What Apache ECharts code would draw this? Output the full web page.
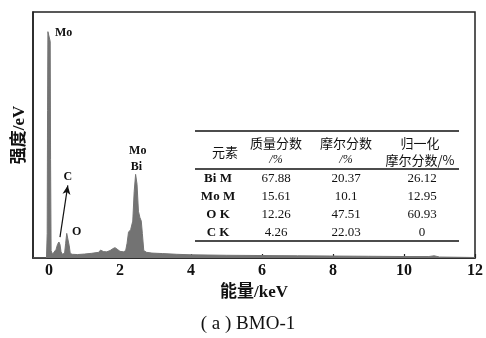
<!DOCTYPE html>
<html><head><meta charset="utf-8">
<script src="https://cdn.jsdelivr.net/npm/echarts@6/dist/echarts.min.js"></script>
<style>html,body{margin:0;padding:0;background:#fff}#c{width:486px;height:338px}</style>
</head><body><div id="c"></div>
<script>
// ---- data ----
var energy = [-0.45,-0.07,-0.05,-0.04,-0.03,0.0,0.02,0.035,0.045,0.06,0.1,0.15,0.2,0.24,0.28,0.31,0.34,0.38,0.44,0.47,0.5,0.54,0.57,0.6,0.66,0.8,1.0,1.2,1.4,1.45,1.49,1.54,1.62,1.72,1.8,1.86,1.92,2.0,2.1,2.16,2.2,2.24,2.3,2.36,2.4,2.44,2.48,2.52,2.56,2.6,2.63,2.67,2.75,2.9,3.2,3.6,4.0,5.0,6.0,7.0,8.0,9.0,10.0,10.7,10.85,11.0,11.5,12.0];
var counts = [0,0,10,60,92,92,92,88,40,3,1.5,2,3.5,5.5,6.5,5.5,2.5,1.5,2,6,10,9.5,5,1.8,1.5,1.4,1.6,1.9,2.3,3.2,3.0,2.6,2.5,3.0,3.8,4.2,3.6,2.7,2.5,3.0,6,10.5,11.5,15,27,34,30,19,16.5,15,10,3,2.3,2.0,1.8,1.5,1.3,1.1,1.0,0.9,0.8,0.7,0.6,0.6,0.9,0.4,0.3,0.2];
var xTicks = [0,2,4,6,8,10,12];
var tableHeader1 = ['元素','质量分数','摩尔分数','归一化'];
var tableHeader2 = ['','/%','/%','摩尔分数/%'];
var elements = ['Bi M','Mo M','O K','C K'];
var massFrac = ['67.88','15.61','12.26','4.26'];
var molarFrac = ['20.37','10.1','47.51','22.03'];
var normMolar = ['26.12','12.95','60.93','0'];
var peakLabels = [{t:'Mo',x:0.17,y:91.5,a:'left'},{t:'Mo',x:2.5,y:43.5,a:'center'},{t:'Bi',x:2.46,y:37,a:'center'},{t:'C',x:0.53,y:33,a:'center'},{t:'O',x:0.65,y:10.5,a:'left'}];

var serif = '"Liberation Serif","DejaVu Serif",serif';
var cjk = '"Liberation Serif","Noto Sans CJK SC",serif';
var pts = energy.map(function(e,i){return [e,counts[i]];});

var chart = echarts.init(document.getElementById('c'));
var option = {
  animation:false,
  grid:{left:33,top:12,right:10,bottom:80,show:true,borderColor:'#222',borderWidth:1.5,backgroundColor:'transparent'},
  xAxis:{type:'value',min:-0.45,max:12,
    axisLine:{show:true,onZero:false,lineStyle:{color:'#222',width:1.5}},
    axisTick:{show:true,inside:true,length:4,customValues:xTicks,lineStyle:{color:'#222',width:1.2}},
    axisLabel:{customValues:xTicks,margin:5,color:'#111',fontFamily:serif,fontWeight:'bold',fontSize:16},
    splitLine:{show:false},
    name:'能量/keV',nameLocation:'middle',nameGap:24,
    nameTextStyle:{color:'#111',fontFamily:cjk,fontWeight:'bold',fontSize:17}},
  yAxis:{type:'value',min:0,max:100,
    axisLine:{show:true,onZero:false,lineStyle:{color:'#222',width:1.5}},
    axisTick:{show:false},axisLabel:{show:false},splitLine:{show:false},
    name:'强度/eV',nameLocation:'middle',nameGap:5,nameRotate:90,
    nameTextStyle:{color:'#111',fontFamily:cjk,fontWeight:'bold',fontSize:17}},
  series:[{type:'line',data:pts,showSymbol:false,symbol:'none',smooth:false,
    lineStyle:{color:'#757575',width:1},
    areaStyle:{color:'#737373',opacity:1},
    markLine:{silent:true,symbol:['none','arrow'],symbolSize:[6,9],
      lineStyle:{color:'#111',width:1.2,type:'solid'},label:{show:false},
      data:[[{coord:[0.31,8.5]},{coord:[0.53,29.5]}]]}
  }]
};
chart.setOption(option);

// annotations and table
var g = [];
peakLabels.forEach(function(p){
  var px = chart.convertToPixel({gridIndex:0},[p.x,p.y]);
  g.push({type:'text',x:px[0],y:px[1],style:{text:p.t,fill:'#111',font:'bold 12px '+serif,textAlign:p.a,textVerticalAlign:'middle'}});
});
var tl = 195, tr = 459;
[131,169,241].forEach(function(y){
  g.push({type:'line',shape:{x1:tl,y1:y,x2:tr,y2:y},style:{stroke:'#111',lineWidth:1.3}});
});
var colX = [218,276,346,422];
var hdrX = [225,276,346,420];
tableHeader1.forEach(function(t,i){
  g.push({type:'text',x:hdrX[i],y:i===0?152:143,style:{text:t,fill:'#111',font:'13px "Noto Sans CJK SC",sans-serif',textAlign:'center',textVerticalAlign:'middle'}});
});
tableHeader2.forEach(function(t,i){
  if(!t) return;
  g.push({type:'text',x:hdrX[i],y:160,style:{text:t,fill:'#111',font:(i===3?'13px "Noto Sans CJK SC",sans-serif':'italic 12px '+serif),textAlign:'center',textVerticalAlign:'middle'}});
});
var rowY = [179,197,215,233];
elements.forEach(function(e,i){
  var vals=[e,massFrac[i],molarFrac[i],normMolar[i]];
  vals.forEach(function(v,j){
    g.push({type:'text',x:colX[j],y:rowY[i],style:{text:v,fill:'#111',font:(j===0?'bold ':'')+'13px '+serif,textAlign:'center',textVerticalAlign:'middle'}});
  });
});
g.push({type:'text',x:248,y:324,style:{text:'( a ) BMO-1',fill:'#111',font:'19px '+serif,textAlign:'center',textVerticalAlign:'middle'}});
chart.setOption({graphic:g});
</script></body></html>
